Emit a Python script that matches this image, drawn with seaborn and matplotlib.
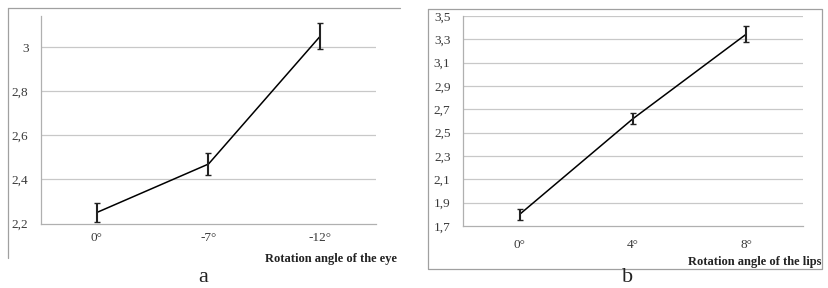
import matplotlib
matplotlib.use("Agg")
import matplotlib.pyplot as plt
import seaborn as sns
import pandas as pd
from matplotlib.lines import Line2D

# panel a: eye rotation
eye_labels = ["0°", "-7°", "-12°"]
eye_values = [2.25, 2.47, 3.05]
eye_err = [0.045, 0.05, 0.06]
eye_yticks = [2.2, 2.4, 2.6, 2.8, 3.0]
eye_yticklabels = ["2,2", "2,4", "2,6", "2,8", "3"]

# panel b: lips rotation
lip_labels = ["0°", "4°", "8°"]
lip_values = [1.80, 2.62, 3.345]
lip_err = [0.045, 0.045, 0.072]
lip_yticks = [1.7, 1.9, 2.1, 2.3, 2.5, 2.7, 2.9, 3.1, 3.3, 3.5]
lip_yticklabels = ["1,7", "1,9", "2,1", "2,3", "2,5", "2,7", "2,9", "3,1", "3,3", "3,5"]

sns.set_theme(style="white")
plt.rcParams["font.family"] = ["Liberation Serif", "DejaVu Serif"]

W, H = 829, 288
fig = plt.figure(figsize=(W / 100, H / 100), dpi=100)

def px_axes(left, top, right, bottom):
    return fig.add_axes([left / W, 1 - bottom / H, (right - left) / W, (bottom - top) / H])

def draw_panel(ax, labels, values, err, yticks, yticklabels, ylim, xlabel_pad):
    df = pd.DataFrame({"pos": range(len(labels)), "value": values})
    sns.lineplot(data=df, x="pos", y="value", ax=ax, color="black", linewidth=1.1)
    ax.errorbar(df["pos"], df["value"], yerr=err, fmt="none", ecolor="#222222",
                elinewidth=1.5, capsize=2, capthick=1.0)
    ax.set_xlim(-0.5, len(labels) - 0.5)
    ax.set_ylim(*ylim)
    ax.set_xticks(range(len(labels)))
    ax.set_xticklabels(labels, fontsize=9.5, color="#3a3a3a")
    ax.set_yticks(yticks)
    ax.set_yticklabels(yticklabels, fontsize=9.5, color="#3a3a3a")
    ax.tick_params(axis="both", length=0)
    ax.tick_params(axis="x", pad=xlabel_pad)
    ax.tick_params(axis="y", pad=9)
    for y in yticks[1:]:
        ax.axhline(y, color="#c8c8c8", linewidth=0.9, zorder=0)
    for s in ["top", "right"]:
        ax.spines[s].set_visible(False)
    for s in ["left", "bottom"]:
        ax.spines[s].set_color("#b0b0b0")
        ax.spines[s].set_linewidth(0.9)
    ax.set_xlabel("")
    ax.set_ylabel("")
    ax.set_facecolor("none")

ax_a = px_axes(41, 16, 376, 223.5)
draw_panel(ax_a, eye_labels, eye_values, eye_err, eye_yticks, eye_yticklabels,
           (2.2, 3.142), 6)

ax_b = px_axes(463, 16, 803, 226)
draw_panel(ax_b, lip_labels, lip_values, lip_err, lip_yticks, lip_yticklabels,
           (1.7, 3.5), 9)

# frames around panels (partial frame for a, full box for b)
frame_col = "#a0a0a0"
fig.add_artist(Line2D([8 / W, 400 / W], [1 - 8 / H, 1 - 8 / H], color=frame_col, lw=0.9))
fig.add_artist(Line2D([8 / W, 8 / W], [1 - 8 / H, 1 - 258 / H], color=frame_col, lw=0.9))
bx = [428 / W, 822 / W, 822 / W, 428 / W, 428 / W]
by = [1 - 9 / H, 1 - 9 / H, 1 - 269 / H, 1 - 269 / H, 1 - 9 / H]
fig.add_artist(Line2D(bx, by, color=frame_col, lw=0.9))

# axis titles and captions
fig.text(397 / W, 1 - 259 / H, "Rotation angle of the eye", ha="right", va="center",
         fontsize=9, fontweight="bold", color="#222222")
fig.text(821 / W, 1 - 262 / H, "Rotation angle of the lips", ha="right", va="center",
         fontsize=9, fontweight="bold", color="#222222")
fig.text(203 / W, 1 - 278 / H, "a", ha="center", va="center", fontsize=16, color="#222222")
fig.text(628 / W, 1 - 278 / H, "b", ha="center", va="center", fontsize=16, color="#222222")

fig.savefig("out.png", dpi=100, facecolor="white")
